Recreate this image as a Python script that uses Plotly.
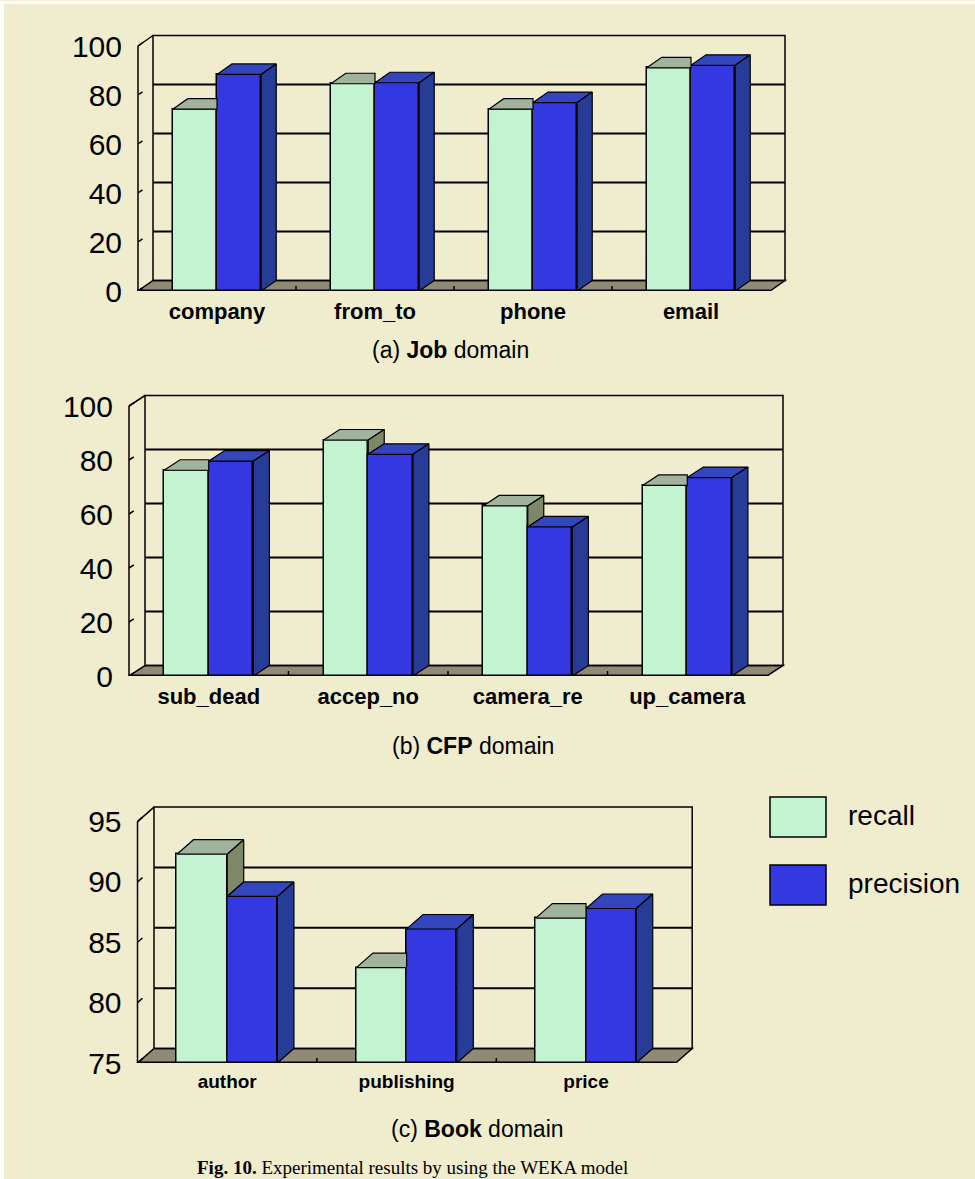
import plotly.graph_objects as go

W = 975
H_REF = 1179      # pixel frame used for all positions below
H_FIG = 1197      # figure height (the photo is squeezed to 1179 rows)

# ---------------- data ----------------
job_categories = ["company", "from_to", "phone", "email"]
job_recall = [74.2, 84.6, 74.2, 91.1]
job_precision = [88.4, 85.0, 76.9, 92.1]

cfp_categories = ["sub_dead", "accep_no", "camera_re", "up_camera"]
cfp_recall = [76.2, 87.4, 63.0, 70.6]
cfp_precision = [79.6, 82.1, 55.2, 73.5]

book_categories = ["author", "publishing", "price"]
book_recall = [92.3, 82.9, 87.0]
book_precision = [88.8, 86.1, 87.8]

job_ticks = [0, 20, 40, 60, 80, 100]
cfp_ticks = [0, 20, 40, 60, 80, 100]
book_ticks = [75, 80, 85, 90, 95]

series_names = ["recall", "precision"]
captions = ["(a) <b>Job</b> domain", "(b) <b>CFP</b> domain", "(c) <b>Book</b> domain"]
figure_caption = "<b>Fig. 10.</b> Experimental results by using the WEKA model"

# ---------------- style ----------------
BG = "#EFEDCD"
REC_FRONT, REC_TOP, REC_SIDE = "#C4F3D1", "#A2B39D", "#7C8867"
PRE_FRONT, PRE_TOP, PRE_SIDE = "#3438E0", "#3346BE", "#263C96"
FLOOR = "#8E8A74"
FONT = "Liberation Sans, Arial, sans-serif"
BAR_W = 0.28

fig = go.Figure()
shapes = []
annotations = []
layout_axes = {}


def py(p):
    """reference pixel row -> paper fraction"""
    return 1 - p / H_REF


def poly(xs, ys, color, xa, ya):
    fig.add_trace(go.Scatter(
        x=xs + [xs[0]], y=ys + [ys[0]], mode="lines", fill="toself",
        fillcolor=color, line=dict(color="black", width=1.2),
        hoverinfo="skip", showlegend=False, xaxis=xa, yaxis=ya))


def add_chart(k, cats, rec, prec, ticks, ymin, ymax, fx0, fx1, fy0, pxu, dx, dy,
              xfont, caption, cap_xy):
    n = len(cats)
    pxcat = (fx1 - fx0) / n
    ddx = dx / pxcat
    ddy = dy / pxu
    pad = 5
    xa = "x" if k == 1 else f"x{k}"
    ya = "y" if k == 1 else f"y{k}"
    xr = [-0.5 - pad / pxcat, n - 0.5 + ddx + pad / pxcat]
    yr = [ymin, ymax + ddy + pad / pxu]
    xdom = [(fx0 - pad) / W, (fx1 + dx + pad) / W]
    ytop_px = fy0 - (ymax - ymin) * pxu - dy - pad
    ydom = [py(fy0), py(ytop_px)]
    kx = "xaxis" if k == 1 else f"xaxis{k}"
    ky = "yaxis" if k == 1 else f"yaxis{k}"
    layout_axes[kx] = dict(domain=xdom, range=xr, anchor=ya, showgrid=False, zeroline=False,
                           showline=False, ticks="", tickvals=list(range(n)),
                           ticktext=[f"<b>{c}</b>" for c in cats], ticklabelstandoff=5,
                           tickfont=dict(size=xfont, color="black", family=FONT), fixedrange=True)
    layout_axes[ky] = dict(domain=ydom, range=yr, anchor=xa, showgrid=False, zeroline=False,
                           showline=False, ticks="", tickvals=ticks, ticklabelstandoff=10,
                           tickfont=dict(size=30, color="black", family=FONT), fixedrange=True)

    def sh(**kw):
        d = dict(xref=xa, yref=ya, layer="below", line=dict(color="black", width=1.5))
        d.update(kw)
        shapes.append(d)

    L, R = -0.5, n - 0.5
    # floor
    sh(type="path",
       path=f"M {L},{ymin} L {R},{ymin} L {R+ddx},{ymin+ddy} L {L+ddx},{ymin+ddy} Z",
       fillcolor=FLOOR)
    # back wall
    sh(type="rect", x0=L + ddx, x1=R + ddx, y0=ymin + ddy, y1=ymax + ddy)
    for v in ticks:
        if ymin < v < ymax:
            sh(type="line", x0=L + ddx, x1=R + ddx, y0=v + ddy, y1=v + ddy,
               line=dict(color="black", width=2))
    # left front axis + top diagonal + stubs
    sh(type="line", x0=L, x1=L, y0=ymin, y1=ymax)
    sh(type="line", x0=L, x1=L + ddx, y0=ymax, y1=ymax + ddy)
    for v in ticks:
        sh(type="line", x0=L, x1=L + ddx * 0.3, y0=v, y1=v + ddy * 0.3)
    # floor category ticks
    for b in range(1, n):
        sh(type="line", x0=b - 0.5, x1=b - 0.5, y0=ymin, y1=ymin + 5 / pxu)
    # floor front edge
    sh(type="line", x0=L, x1=R, y0=ymin, y1=ymin, layer="above",
       line=dict(color="black", width=3))

    # front faces
    fig.add_trace(go.Bar(x=[i - BAR_W / 2 for i in range(n)], y=rec, width=BAR_W,
                         name=series_names[0], marker=dict(color=REC_FRONT, line=dict(color="black", width=1.5)),
                         showlegend=False, xaxis=xa, yaxis=ya))
    fig.add_trace(go.Bar(x=[i + BAR_W / 2 for i in range(n)], y=prec, width=BAR_W,
                         name=series_names[1], marker=dict(color=PRE_FRONT, line=dict(color="black", width=1.5)),
                         showlegend=False, xaxis=xa, yaxis=ya))
    w = BAR_W
    for i in range(n):
        vr, vp = rec[i], prec[i]
        if vp >= vr:
            poly([i - w, i, i, i - w + ddx], [vr, vr, vr + ddy, vr + ddy], REC_TOP, xa, ya)
        else:
            poly([i - w, i, i + ddx, i - w + ddx], [vr, vr, vr + ddy, vr + ddy], REC_TOP, xa, ya)
            poly([i, i, i + ddx, i + ddx], [vp, vr, vr + ddy, vp + ddy], REC_SIDE, xa, ya)
        poly([i, i + w, i + w + ddx, i + ddx], [vp, vp, vp + ddy, vp + ddy], PRE_TOP, xa, ya)
        poly([i + w, i + w, i + w + ddx, i + w + ddx], [ymin, vp, vp + ddy, ymin + ddy], PRE_SIDE, xa, ya)

    annotations.append(dict(xref="paper", yref="paper", x=cap_xy[0] / W, y=py(cap_xy[1]),
                            xanchor="center", yanchor="middle", showarrow=False, text=caption,
                            font=dict(size=23, color="black", family=FONT)))


add_chart(1, job_categories, job_recall, job_precision, job_ticks, 0, 100,
          138, 770, 290, 2.45, 15, 10.5, 22, captions[0], (450, 349))
add_chart(2, cfp_categories, cfp_recall, cfp_precision, cfp_ticks, 0, 100,
          129, 767, 675, 2.7, 16, 10.5, 22, captions[1], (473, 745))
add_chart(3, book_categories, book_recall, book_precision, book_ticks, 75, 95,
          137.5, 675.7, 1062, 12.07, 16.5, 14.5, 19, captions[2], (477, 1128))

# legend (custom)
def pshape(x0, y0, x1, y1, color):
    shapes.append(dict(type="rect", xref="paper", yref="paper", x0=x0 / W, x1=x1 / W,
                       y0=py(y1), y1=py(y0), fillcolor=color,
                       line=dict(color="black", width=1.5), layer="above"))

pshape(770, 796, 826, 836, REC_FRONT)
pshape(770, 864, 826, 904, PRE_FRONT)
for name, yc in zip(series_names, [814, 882]):
    annotations.append(dict(xref="paper", yref="paper", x=846 / W, y=py(yc), xanchor="left",
                            yanchor="middle", showarrow=False, text=name,
                            font=dict(size=28, color="black", family=FONT)))

annotations.append(dict(xref="paper", yref="paper", x=195 / W, y=0, xanchor="left",
                        yanchor="bottom", showarrow=False, text=figure_caption,
                        font=dict(size=19, color="black", family="Liberation Serif, serif")))

# white border strips
shapes.append(dict(type="rect", xref="paper", yref="paper", x0=0, x1=1, y0=py(3), y1=1,
                   fillcolor="white", line=dict(width=0), layer="below"))
shapes.append(dict(type="rect", xref="paper", yref="paper", x0=0, x1=4 / W, y0=0, y1=1,
                   fillcolor="white", line=dict(width=0), layer="below"))

fig.update_layout(
    width=W, height=H_FIG, margin=dict(l=0, r=0, t=0, b=0),
    paper_bgcolor=BG, plot_bgcolor="rgba(0,0,0,0)",
    barmode="overlay", bargap=0, showlegend=False,
    shapes=shapes, annotations=annotations,
    font=dict(family=FONT, color="black"),
    **layout_axes,
)

fig.write_html(
    "out.html",
    config={"displayModeBar": False},
    post_script="document.body.style.margin='0px';document.body.style.overflow='hidden';"
                "document.documentElement.style.overflow='hidden';"
                "document.body.style.background='" + BG + "';"
                "document.documentElement.style.background='" + BG + "';",
)
